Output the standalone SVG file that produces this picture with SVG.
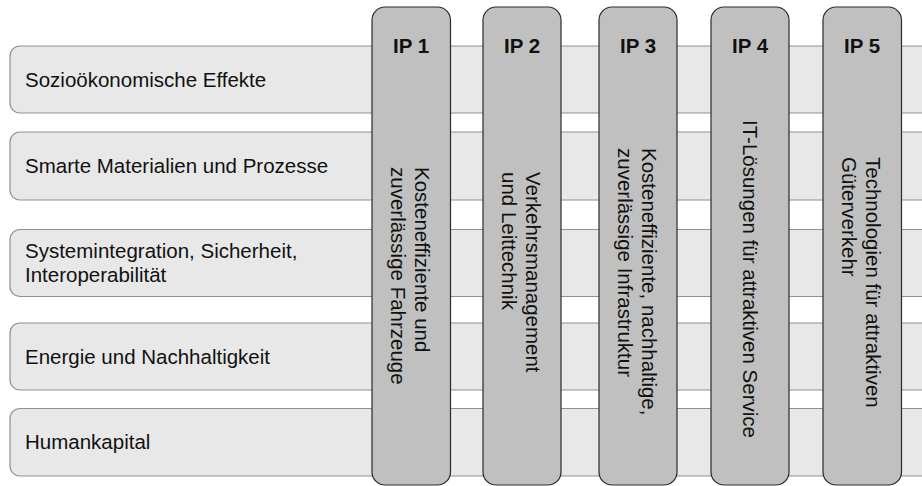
<svg xmlns="http://www.w3.org/2000/svg" width="922" height="486" viewBox="0 0 922 486">
  <style>
    .row { fill: #e8e8e8; stroke: #8f8f8f; stroke-width: 1.2; }
    .col { fill: #c0c0c0; stroke: #2b2b2b; stroke-width: 1.2; }
    .lbl { font-family: "Liberation Sans", Arial, Helvetica, sans-serif; font-size: 20.5px; fill: #111; }
    .ip { font-family: "Liberation Sans", Arial, Helvetica, sans-serif; font-size: 20.5px; font-weight: bold; fill: #111; text-anchor: middle; }
  </style>

  <!-- horizontal topic bands -->
  <g id="row-sozio">
    <rect class="row" x="10" y="46" width="930" height="67" rx="10"/>
    <text class="lbl" x="25" y="86.5">Sozioökonomische Effekte</text>
  </g>
  <g id="row-materialien">
    <rect class="row" x="10" y="132" width="930" height="68" rx="10"/>
    <text class="lbl" x="25" y="173">Smarte Materialien und Prozesse</text>
  </g>
  <g id="row-system">
    <rect class="row" x="10" y="229.5" width="930" height="67" rx="10"/>
    <text class="lbl" x="25" y="258">Systemintegration, Sicherheit,</text>
    <text class="lbl" x="25" y="282">Interoperabilität</text>
  </g>
  <g id="row-energie">
    <rect class="row" x="10" y="323" width="930" height="67" rx="10"/>
    <text class="lbl" x="25" y="363.5">Energie und Nachhaltigkeit</text>
  </g>
  <g id="row-human">
    <rect class="row" x="10" y="408.5" width="930" height="67.5" rx="10"/>
    <text class="lbl" x="25" y="449">Humankapital</text>
  </g>

  <!-- vertical innovation programme columns -->
  <g id="ip1">
    <rect class="col" x="372" y="7" width="78.5" height="478" rx="13"/>
    <text class="ip" x="411" y="53">IP 1</text>
    <g transform="translate(411,167) rotate(90)">
      <text class="lbl" x="0" y="-4">Kosteneffiziente und</text>
      <text class="lbl" x="0" y="20">zuverlässige Fahrzeuge</text>
    </g>
  </g>
  <g id="ip2">
    <rect class="col" x="483" y="7" width="78" height="478" rx="13"/>
    <text class="ip" x="522" y="53">IP 2</text>
    <g transform="translate(522,172) rotate(90)">
      <text class="lbl" x="0" y="-4">Verkehrsmanagement</text>
      <text class="lbl" x="0" y="20">und Leittechnik</text>
    </g>
  </g>
  <g id="ip3">
    <rect class="col" x="599" y="7" width="78" height="478" rx="13"/>
    <text class="ip" x="638" y="53">IP 3</text>
    <g transform="translate(638,148) rotate(90)">
      <text class="lbl" x="0" y="-4">Kosteneffiziente, nachhaltige,</text>
      <text class="lbl" x="0" y="20">zuverlässige Infrastruktur</text>
    </g>
  </g>
  <g id="ip4">
    <rect class="col" x="711" y="7" width="78" height="478" rx="13"/>
    <text class="ip" x="750" y="53">IP 4</text>
    <g transform="translate(750,120) rotate(90)">
      <text class="lbl" x="0" y="7">IT-Lösungen für attraktiven Service</text>
    </g>
  </g>
  <g id="ip5">
    <rect class="col" x="823" y="7" width="78.5" height="478" rx="13"/>
    <text class="ip" x="862" y="53">IP 5</text>
    <g transform="translate(862,157) rotate(90)">
      <text class="lbl" x="0" y="-4">Technologien für attraktiven</text>
      <text class="lbl" x="0" y="20">Güterverkehr</text>
    </g>
  </g>
</svg>
